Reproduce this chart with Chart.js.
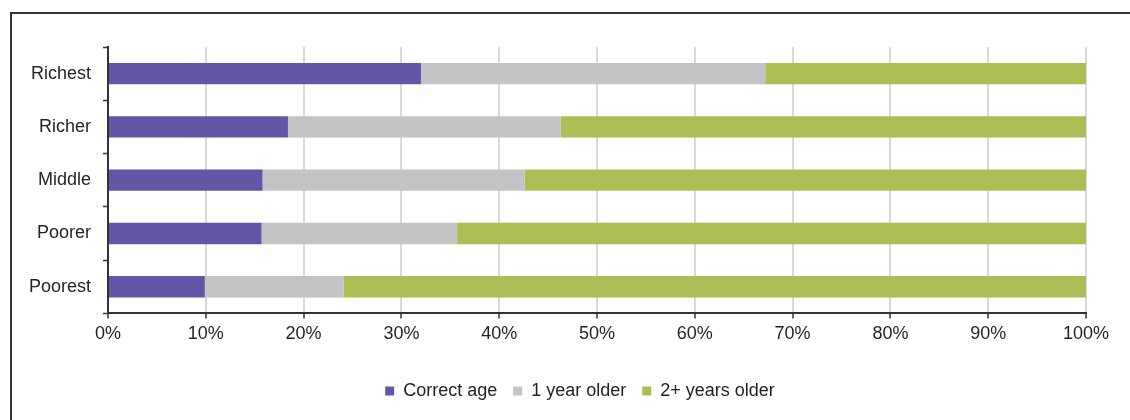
<!DOCTYPE html>
<html>
<head>
<meta charset="utf-8">
<script src="https://cdn.jsdelivr.net/npm/chart.js@4.4.0/dist/chart.umd.min.js"></script>
<style>
  html, body { margin: 0; padding: 0; background: #fff; overflow: hidden; }
  #moldura {
    position: absolute; left: 10px; top: 12px;
    width: 1300px; height: 600px;
    border-left: 2px solid #333; border-top: 2px solid #333;
  }
  #caixa { position: absolute; left: 0; top: 0; width: 1160px; height: 420px; }
</style>
</head>
<body>
<div id="moldura"></div>
<div id="caixa"><canvas id="grafico" width="1160" height="420"></canvas></div>
<script>
// categorias (de cima para baixo)
const categorias = ['Richest', 'Richer', 'Middle', 'Poorer', 'Poorest'];
// valores em %
const idadeCorreta = [32.0, 18.4, 15.8, 15.7, 9.9];
const umAnoMais = [35.2, 27.9, 26.8, 20.0, 14.2];
const doisAnosMais = [32.8, 53.7, 57.4, 64.3, 75.9];
const rotulosSeries = ['Correct age', '1 year older', '2+ years older'];
const cores = ['#6257A6', '#C3C4C6', '#ABBD54'];

const fonte = { family: '"Liberation Sans", Arial, sans-serif', size: 18 };
const corTexto = '#231F20';

var ctx = document.getElementById('grafico').getContext('2d');

var grafico = new Chart(ctx, {
    type: 'bar',
    data: {
        labels: categorias,
        datasets: [idadeCorreta, umAnoMais, doisAnosMais].map(function(d, i) {
            return {
                label: rotulosSeries[i],
                data: d,
                backgroundColor: cores[i],
                borderWidth: 0,
                categoryPercentage: 1,
                barPercentage: 0.4
            };
        })
    },
    options: {
        indexAxis: 'y',
        responsive: false,
        animation: false,
        devicePixelRatio: 1,
        layout: { padding: { top: 47, right: 0, bottom: 10, left: 0 } },
        plugins: {
            legend: {
                position: 'bottom',
                labels: {
                    font: fonte,
                    color: corTexto,
                    boxWidth: 9,
                    boxHeight: 9,
                    padding: 16
                }
            },
            tooltip: { enabled: false }
        },
        scales: {
            x: {
                stacked: true,
                min: 0,
                max: 100,
                ticks: {
                    stepSize: 10,
                    font: fonte,
                    color: corTexto,
                    padding: 5,
                    maxRotation: 0,
                    callback: function(v) { return v + '%'; }
                },
                grid: {
                    color: '#DADADA',
                    lineWidth: 2,
                    tickColor: '#333',
                    tickWidth: 1.5,
                    tickLength: 5
                },
                border: { color: '#333', width: 2 },
                afterFit: function(escala) { escala.height += 16; }
            },
            y: {
                stacked: true,
                ticks: { font: fonte, color: corTexto, padding: 12 },
                grid: {
                    drawOnChartArea: false,
                    tickColor: '#333',
                    tickWidth: 1.5,
                    tickLength: 5
                },
                border: { color: '#333', width: 2 },
                afterFit: function(escala) { escala.width = 108; }
            },
            // eixo vazio so para reservar a margem direita
            margem: {
                type: 'category',
                position: 'right',
                ticks: { display: false },
                grid: { display: false },
                border: { display: false },
                afterFit: function(escala) { escala.width = 74; }
            }
        }
    }
});
</script>
</body>
</html>
